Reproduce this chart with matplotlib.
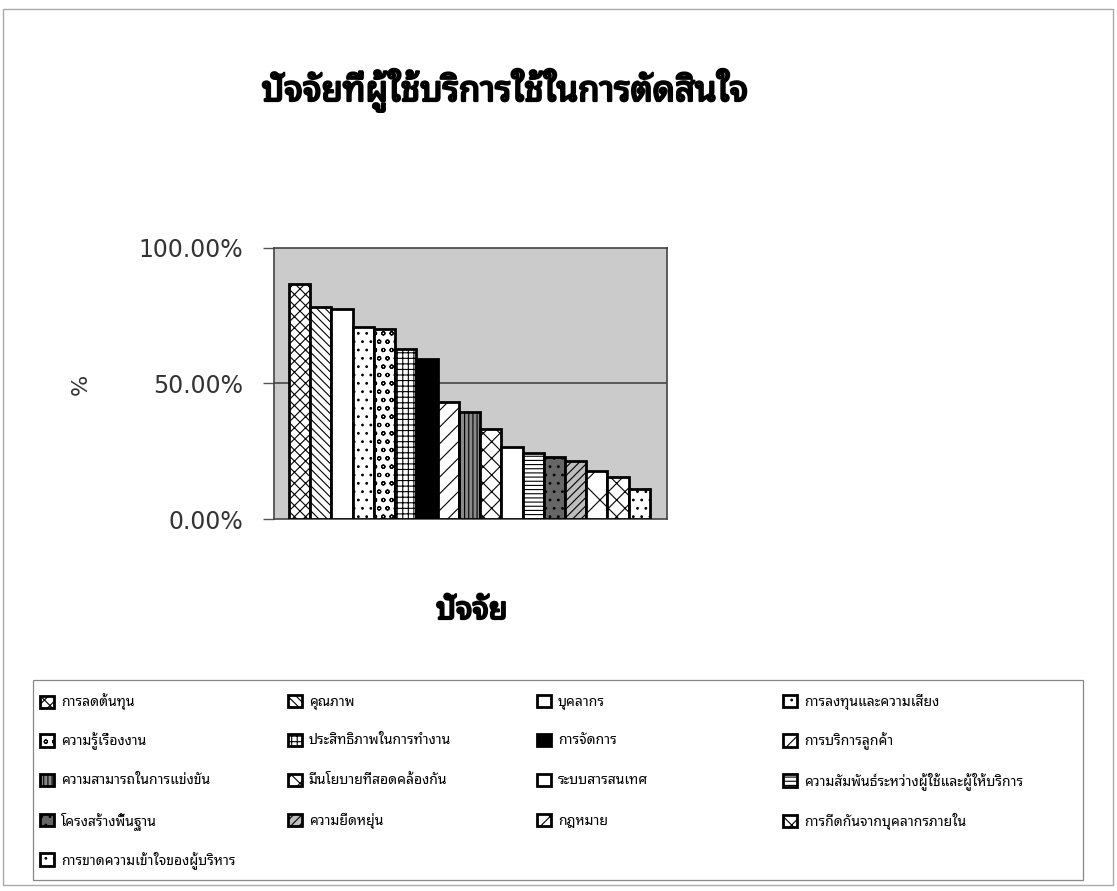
import matplotlib
matplotlib.use('Agg')
import matplotlib.pyplot as plt
from matplotlib import font_manager
from matplotlib.ft2font import FT2Font
from matplotlib.patches import Rectangle
from matplotlib.ticker import FuncFormatter
import matplotlib.patheffects as pe

# Data
factors = ['การลดต้นทุน', 'คุณภาพ', 'บุคลากร', 'การลงทุนและความเสี่ยง',
           'ความรู้เรื่องงาน', 'ประสิทธิภาพในการทำงาน', 'การจัดการ', 'การบริการลูกค้า',
           'ความสามารถในการแข่งขัน', 'มีนโยบายที่สอดคล้องกัน', 'ระบบสารสนเทศ',
           'ความสัมพันธ์ระหว่างผู้ใช้และผู้ให้บริการ',
           'โครงสร้างพื้นฐาน', 'ความยืดหยุ่น', 'กฎหมาย', 'การกีดกันจากบุคลากรภายใน',
           'การขาดความเข้าใจของผู้บริหาร']
percent = [86.8, 78.1, 77.6, 71.0, 70.0, 62.8, 58.9, 43.3, 39.6, 33.2,
           26.6, 24.2, 22.9, 21.5, 17.8, 15.5, 11.2]
yticks = [0, 50, 100]

title = 'ปัจจัยที่ผู้ใช้บริการใช้ในการตัดสินใจ'
xlabel = 'ปัจจัย'
ylabel = '%'

# styles for each bar (fill, hatch)
faces = ['white', 'white', 'white', 'white', 'white', 'white', 'black', 'white',
         '#8a8a8a', 'white', 'white', 'white', '#666666', '#bdbdbd', 'white', 'white', 'white']
hatches = ['xxx', '\\\\\\\\', '', '..', 'oo', '+++', '', '//',
           '||||', 'xx', '', '----', '..', '////', 'x', 'xx', '..']


# find fonts that have Thai glyphs (regular + bold if there is one)
def thai_fonts():
    found = []
    for f in font_manager.fontManager.ttflist:
        try:
            if ord('ก') in FT2Font(f.fname).get_charmap():
                found.append(f)
        except Exception:
            pass
    prefs = ['Noto Sans Thai Looped', 'Tahoma', 'Loma', 'Noto Sans Thai']
    found.sort(key=lambda f: (prefs.index(f.name) if f.name in prefs else 99, f.name))
    if not found:
        return 'DejaVu Sans', None
    name = found[0].name
    bold = [f for f in found if f.name == name and f.weight in ('bold', 700, 'heavy', 800)]
    return name, (bold[0].fname if bold else None)


thfont, thbold = thai_fonts()
plt.rcParams['font.family'] = [thfont, 'DejaVu Sans']
plt.rcParams['hatch.linewidth'] = 0.8


def bold_text(x, y, s, size):
    if thbold:
        fp = font_manager.FontProperties(fname=thbold, size=size)
        return fig.text(x, y, s, ha='center', va='center', fontproperties=fp)
    t = fig.text(x, y, s, ha='center', va='center', fontsize=size, fontweight='bold')
    t.set_path_effects([pe.withStroke(linewidth=1.6, foreground='black')])
    return t


fig = plt.figure(figsize=(11.17, 8.91), dpi=100)
ax = fig.add_axes([0.2453, 0.4175, 0.3518, 0.3042])
ax.set_facecolor('#cbcbcb')

x = range(len(percent))
ax.bar(x, percent, width=1.0, color=faces, edgecolor='black', linewidth=2,
       hatch=hatches, zorder=3)
bars = ax.patches

ax.axhline(50, color='#505050', lw=1.3, zorder=1)
ax.set_xlim(-1.2, 17.3)
ax.set_ylim(0, 100)
ax.set_xticks([])
ax.set_yticks(yticks)
ax.yaxis.set_major_formatter(FuncFormatter(lambda v, p: f'{v:.2f}%'))
ax.tick_params(axis='y', length=8, width=1, color='#555555', pad=14, labelsize=17,
               labelcolor='#333333')
for lab in ax.get_yticklabels():
    lab.set_family('DejaVu Sans')
for s in ax.spines.values():
    s.set_color('#444444')
    s.set_linewidth(1.2)

fig.text(81 / 1117, 1 - 384 / 891, ylabel, rotation=90, ha='center', va='center',
         fontsize=16, family='DejaVu Sans', color='#333333')
bold_text(505 / 1117, 1 - 90 / 891, title, 25)
bold_text(472 / 1117, 1 - 611 / 891, xlabel, 22)

# legend: 4 columns x 5 rows, filled row by row, one entry per slot so rows line up
colx = [40, 288, 537, 783]
rowy = [702, 741, 781, 821, 860]
for i, name in enumerate(factors):
    r, c = divmod(i, 4)
    fig.legend([bars[i]], [name], loc='center left',
               bbox_to_anchor=(colx[c] / 1117, 1 - rowy[r] / 891),
               fontsize=10, handlelength=1.0, handleheight=1.0,
               handletextpad=0.5, borderpad=0, borderaxespad=0, frameon=False)
fig.patches.append(Rectangle((33 / 1117, 1 - 880 / 891), 1050 / 1117, 200 / 891,
                             transform=fig.transFigure, fill=False, edgecolor='#888888', lw=0.9))

# outer border of the whole chart
fig.patches.append(Rectangle((3 / 1117, 6 / 891), 1110 / 1117, 876 / 891,
                             transform=fig.transFigure, fill=False, edgecolor='#aaaaaa', lw=1))

fig.savefig('out.png', dpi=100)
